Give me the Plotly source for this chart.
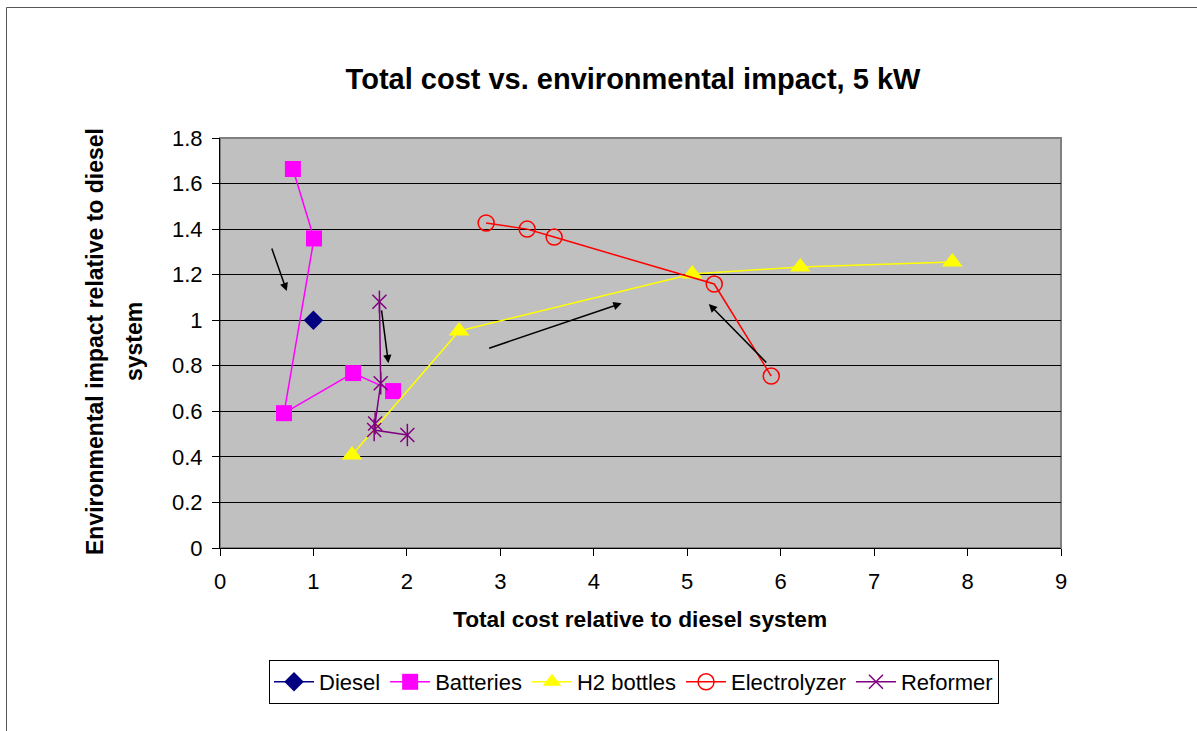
import plotly.graph_objects as go

# Total cost (x) and environmental impact (y), both relative to the diesel system
diesel_x = [1.0]
diesel_y = [1.0]

batteries_x = [0.78, 1.006, 0.685, 1.424, 1.852]
batteries_y = [1.664, 1.359, 0.592, 0.768, 0.689]

h2_x = [1.413, 2.559, 5.054, 6.21, 7.837]
h2_y = [0.408, 0.953, 1.203, 1.234, 1.256]

electrolyzer_x = [2.848, 3.287, 3.576, 5.289, 5.899]
electrolyzer_y = [1.427, 1.400, 1.365, 1.159, 0.755]

reformer_x = [1.706, 1.72, 1.66, 1.65, 2.005]
reformer_y = [1.081, 0.723, 0.547, 0.518, 0.496]

# Trend arrows: (tail_x, tail_y, head_x, head_y)
arrows = [
    (0.549, 1.321, 0.714, 1.128),
    (1.727, 1.050, 1.802, 0.811),
    (2.864, 0.875, 4.298, 1.074),
    (5.862, 0.808, 5.231, 1.071),
]

x_ticks = [0, 1, 2, 3, 4, 5, 6, 7, 8, 9]
y_ticks = [0, 0.2, 0.4, 0.6, 0.8, 1.0, 1.2, 1.4, 1.6, 1.8]
y_tick_text = ["0", "0.2", "0.4", "0.6", "0.8", "1", "1.2", "1.4", "1.6", "1.8"]

y_title_lines = ["Environmental impact relative to diesel", "system"]
x_title = "Total cost relative to diesel system"
chart_title = "Total cost vs. environmental impact, 5 kW"

FONT = "Liberation Sans, Arial, sans-serif"
W, H = 1197, 731
L, R, T, B = 220, 136, 138, 183
PW, PH = W - L - R, H - T - B


def px_x(p):
    return (p - L) / PW


def px_y(p):
    return (H - B - p) / PH


fig = go.Figure()

fig.add_trace(go.Scatter(
    x=diesel_x, y=diesel_y, name="Diesel", mode="lines+markers",
    line=dict(color="#000080", width=1.5),
    marker=dict(symbol="diamond", size=15, color="#000080"),
))
fig.add_trace(go.Scatter(
    x=batteries_x, y=batteries_y, name="Batteries", mode="lines+markers",
    line=dict(color="#FF00FF", width=1.5),
    marker=dict(symbol="square", size=16, color="#FF00FF"),
))
fig.add_trace(go.Scatter(
    x=h2_x, y=h2_y, name="H2 bottles", mode="lines+markers",
    line=dict(color="#FFFF00", width=1.5),
    marker=dict(symbol="triangle-up", size=18, color="#FFFF00"),
))
fig.add_trace(go.Scatter(
    x=electrolyzer_x, y=electrolyzer_y, name="Electrolyzer", mode="lines+markers",
    line=dict(color="#FF0000", width=1.5),
    marker=dict(symbol="circle-open", size=16, color="#FF0000", line=dict(width=1.5)),
))
fig.add_trace(go.Scatter(
    x=reformer_x, y=reformer_y, name="Reformer", mode="lines+markers",
    line=dict(color="#800080", width=1.5),
    marker=dict(symbol="x-thin-open", size=14, color="#800080", line=dict(width=1.5, color="#800080")),
    legendgroup="reformer",
))
# vertical spoke of the star marker
fig.add_trace(go.Scatter(
    x=reformer_x, y=reformer_y, name="Reformer", mode="markers", showlegend=False,
    marker=dict(symbol="line-ns-open", size=16, color="#800080", line=dict(width=1.5, color="#800080")),
    legendgroup="reformer", hoverinfo="skip",
))

annotations = []
for tx, ty, hx, hy in arrows:
    annotations.append(dict(
        x=hx, y=hy, ax=tx, ay=ty, xref="x", yref="y", axref="x", ayref="y",
        text="", showarrow=True, arrowhead=2, arrowsize=1.1, arrowwidth=1.5,
        arrowcolor="#000000", standoff=0,
    ))

# rotated y-axis title, one annotation per line
for line_text, cx in zip(y_title_lines, [95, 134]):
    annotations.append(dict(
        text=f"<b>{line_text}</b>",
        textangle=-90, xref="paper", yref="paper",
        x=px_x(cx), y=px_y(342), xanchor="center", yanchor="middle",
        showarrow=False, font=dict(family=FONT, size=23, color="#000000"),
    ))
annotations.append(dict(
    text=f"<b>{x_title}</b>",
    xref="paper", yref="paper", x=px_x(640), y=px_y(619),
    xanchor="center", yanchor="middle",
    showarrow=False, font=dict(family=FONT, size=22.7, color="#000000"),
))

shapes = [
    # outer chart frame
    dict(type="rect", xref="paper", yref="paper",
         x0=px_x(6.5), x1=px_x(1205), y0=px_y(7.5), y1=px_y(745),
         line=dict(color="#555555", width=1), fillcolor="rgba(0,0,0,0)", layer="below"),
    # plot area border
    dict(type="rect", xref="paper", yref="paper", x0=0, x1=1, y0=0, y1=1,
         line=dict(color="#808080", width=2), fillcolor="rgba(0,0,0,0)", layer="below"),
]

fig.update_layout(
    width=W, height=H,
    margin=dict(l=L, r=R, t=T, b=B, pad=0),
    paper_bgcolor="#FFFFFF",
    plot_bgcolor="#C0C0C0",
    font=dict(family=FONT, size=22, color="#000000"),
    title=dict(
        text=f"<b>{chart_title}</b>",
        x=px_x(633), y=1 - 79 / H, xref="paper", yref="container",
        xanchor="center", yanchor="middle",
        font=dict(family=FONT, size=29, color="#000000"),
    ),
    showlegend=True,
    legend=dict(
        orientation="h", x=px_x(634), y=px_y(660), xanchor="center", yanchor="top",
        bordercolor="#000000", borderwidth=1, bgcolor="#FFFFFF",
        font=dict(family=FONT, size=22, color="#000000"),
        itemwidth=40, tracegroupgap=0,
    ),
    annotations=annotations,
    shapes=shapes,
)

fig.update_xaxes(
    range=[0, 9], tickvals=x_ticks, showgrid=False, zeroline=False,
    showline=True, linecolor="#000000", linewidth=1,
    ticks="outside", ticklen=7, tickcolor="#000000", tickwidth=1,
    ticklabelstandoff=7,
    tickfont=dict(family=FONT, size=22, color="#000000"),
)
fig.update_yaxes(
    range=[0, 1.8], tickvals=y_ticks, ticktext=y_tick_text,
    showgrid=True, gridcolor="#000000", gridwidth=1, zeroline=False,
    showline=True, linecolor="#000000", linewidth=1,
    ticks="outside", ticklen=7, tickcolor="#000000", tickwidth=1,
    ticklabelstandoff=5,
    tickfont=dict(family=FONT, size=22, color="#000000"),
)

fig.write_html("out.html")
